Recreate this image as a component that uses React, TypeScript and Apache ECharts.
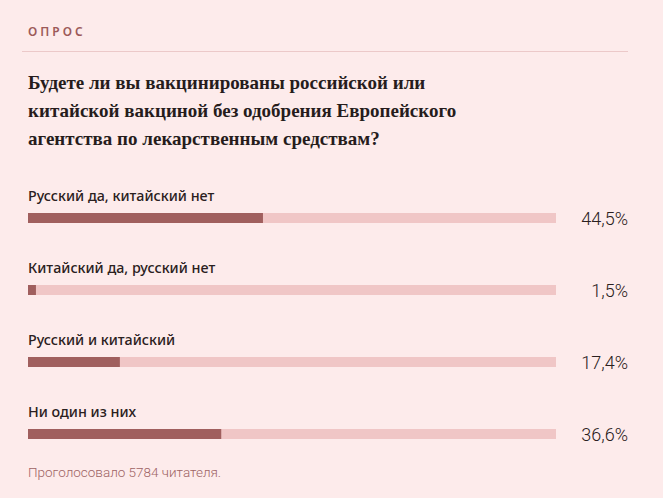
import { useEffect, useRef } from 'react';
import * as echarts from 'echarts';

const categories = [
  'Русский да, китайский нет',
  'Китайский да, русский нет',
  'Русский и китайский',
  'Ни один из них',
];
const values = [44.5, 1.5, 17.4, 36.6];
const valueLabels = ['44,5%', '1,5%', '17,4%', '36,6%'];

const kicker = 'ОПРОС';
const question =
  'Будете ли вы вакцинированы российской или\nкитайской вакциной без одобрения Европейского\nагентства по лекарственным средствам?';
const footer = 'Проголосовало 5784 читателя.';

export default function App() {
  const chartRef = useRef<HTMLDivElement>(null);

  useEffect(() => {
    if (!chartRef.current) return;
    const chart = echarts.init(chartRef.current, undefined, { renderer: 'svg' });

    const option: echarts.EChartsOption = {
      animation: false,
      backgroundColor: '#fdebeb',
      title: [
        {
          text: kicker,
          left: 28,
          top: 25,
          padding: 0,
          textStyle: {
            fontFamily: 'Noto Sans',
            fontSize: 12,
            fontWeight: 600,
            color: '#9c5a59',
          },
        },
        {
          text: question,
          left: 28,
          top: 68,
          padding: 0,
          textStyle: {
            fontFamily: 'Liberation Serif',
            fontSize: 19,
            fontWeight: 'bold',
            lineHeight: 28,
            color: '#261c1c',
          },
        },
        {
          text: footer,
          left: 28,
          top: 465,
          padding: 0,
          textStyle: {
            fontFamily: 'Roboto',
            fontSize: 13.5,
            fontWeight: 300,
            color: '#9e6364',
          },
        },
      ],
      graphic: [
        {
          type: 'line',
          shape: { x1: 22, y1: 51.5, x2: 628, y2: 51.5 },
          style: { stroke: '#ecc9c9', lineWidth: 1 },
        },
      ],
      grid: { left: 28, right: 107, top: 182, bottom: 28 },
      xAxis: {
        type: 'value',
        min: 0,
        max: 100,
        show: false,
      },
      yAxis: [
        {
          type: 'category',
          data: categories,
          inverse: true,
          axisLine: { show: false },
          axisTick: { show: false },
          axisLabel: {
            inside: true,
            margin: 0,
            verticalAlign: 'bottom',
            padding: [0, 0, 16, 0],
            fontFamily: 'Noto Sans',
            fontSize: 14.3,
            fontWeight: 500,
            color: '#2a2020',
          },
        },
        {
          type: 'category',
          data: valueLabels,
          inverse: true,
          position: 'right',
          axisLine: { show: false },
          axisTick: { show: false },
          axisLabel: {
            margin: 72,
            align: 'right',
            fontFamily: 'Roboto',
            fontSize: 18,
            fontWeight: 300,
            color: '#2a2020',
          },
        },
      ],
      series: [
        {
          type: 'bar',
          data: values,
          barWidth: 10,
          showBackground: true,
          backgroundStyle: { color: '#f0c6c6' },
          itemStyle: { color: '#a05f5e' },
        },
      ],
    };

    chart.setOption(option);
    return () => {
      chart.dispose();
    };
  }, []);

  return (
    <>
      <style>{'text[style*="12px"] { letter-spacing: 3px; }'}</style>
      <div
        ref={chartRef}
        style={{ position: 'absolute', left: 0, top: 0, width: 663, height: 498 }}
      />
    </>
  );
}
